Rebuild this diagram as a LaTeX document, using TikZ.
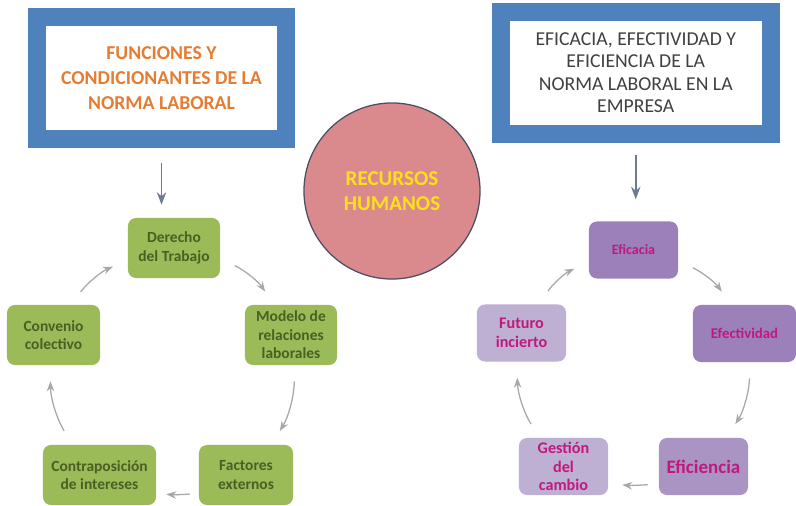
\documentclass[tikz,border=0pt]{standalone}
\usepackage{fontspec}
\setmainfont{Carlito}
\usetikzlibrary{arrows.meta, positioning}

\definecolor{frameblue}{HTML}{4F81BD}
\definecolor{titleorange}{HTML}{E67C32}
\definecolor{titlegray}{HTML}{404040}
\definecolor{arrowblue}{HTML}{6C7A96}
\definecolor{arrowgray}{HTML}{A8A8A8}
\definecolor{circlepink}{HTML}{DA8A8D}
\definecolor{circleline}{HTML}{4A4E66}
\definecolor{circletext}{HTML}{FFE01A}
\definecolor{boxgreen}{HTML}{9BBB59}
\definecolor{textgreen}{HTML}{4A5F22}
\definecolor{purpledark}{HTML}{9C80BA}
\definecolor{purplemid}{HTML}{A994C4}
\definecolor{purplelight}{HTML}{BEB0D3}
\definecolor{textpink}{HTML}{C2187D}

\begin{document}
\begin{tikzpicture}[
    x=0.025cm, y=-0.025cm,
    >=Stealth,
    % Define styles for the different node types
    framebox/.style={rectangle, draw=frameblue, line width=0.45cm, fill=white, align=center, minimum height=3.04cm},
    greenbox/.style={rectangle, rounded corners=0.2cm, fill=boxgreen, text=textgreen, align=center, minimum height=1.5cm, inner sep=2pt, font=\fontsize{11}{13.2}\selectfont\bfseries},
    purplebox/.style={rectangle, rounded corners=0.2cm, text=textpink, align=center, minimum width=2.225cm, minimum height=1.425cm, inner sep=2pt, font=\fontsize{11.5}{13.4}\selectfont\bfseries},
    downarrow/.style={->, line width=1.3pt, draw=arrowblue},
    cyclearrow/.style={->, line width=0.9pt, draw=arrowgray, shorten <=0.4cm, shorten >=0.4cm, bend left=15},
]

% background and page size
\fill[white] (0,0) rectangle (796,506);
\useasboundingbox (0,0) rectangle (796,506);

% -------------------------
% Title Frames and Centre
% -------------------------
\node (leftframe) [framebox, minimum width=6.24cm, text=titleorange, font=\fontsize{14}{17.8}\selectfont\bfseries] at (161.5,78) {FUNCIONES Y\\CONDICIONANTES DE LA\\NORMA LABORAL};
\node (rightframe) [framebox, minimum width=6.74cm, text=titlegray, font=\fontsize{14}{15.8}\selectfont] at (635.75,72.75) {EFICACIA, EFECTIVIDAD Y\\EFICIENCIA DE LA\\NORMA LABORAL EN LA\\EMPRESA};

\node (rrhh) [circle, fill=circlepink, draw=circleline, line width=0.9pt, minimum size=4.4cm, align=center, text=circletext, font=\fontsize{15}{17.8}\selectfont\bfseries] at (392,191) {RECURSOS\\HUMANOS};

% -------------------------
% Left Cycle Nodes
% -------------------------
\node (derecho) [greenbox, minimum width=2.3cm] at (174,248) {Derecho\\del Trabajo};
\node (modelo) [greenbox, minimum width=2.3cm] at (291,335) {Modelo de\\relaciones\\laborales};
\node (factores) [greenbox, minimum width=2.35cm] at (246,475) {Factores\\externos};
\node (contra) [greenbox, minimum width=2.825cm] at (99.5,475) {Contraposición\\de intereses};
\node (convenio) [greenbox, minimum width=2.325cm] at (53.5,335) {Convenio\\colectivo};

% -------------------------
% Right Cycle Nodes
% -------------------------
\node (eficacia) [purplebox, fill=purpledark, font=\fontsize{10}{12}\selectfont\bfseries] at (633.5,250) {Eficacia};
\node (efectividad) [purplebox, fill=purpledark, minimum width=2.575cm, font=\fontsize{10.5}{12}\selectfont\bfseries] at (744.5,333.5) {Efectividad};
\node (eficiencia) [purplebox, fill=purplemid, font=\fontsize{13.5}{15}\selectfont\bfseries] at (703.5,466.5) {Eficiencia};
\node (gestion) [purplebox, fill=purplelight] at (563.5,466.5) {Gestión\\del\\cambio};
\node (futuro) [purplebox, fill=purplelight] at (521.5,333) {Futuro\\incierto};

% -------------------------
% Arrow Connections
% -------------------------

% Frames to first step
\draw[downarrow, shorten <=0.375cm, shorten >=0.325cm] (leftframe.south) -- (leftframe.south |- derecho.north);
\draw[downarrow, shorten <=0.3cm, shorten >=0.55cm] (rightframe.south) -- (rightframe.south |- eficacia.north);

% Left cycle
\draw[cyclearrow] (derecho.-13) to (modelo.119);
\draw[cyclearrow] (modelo.-83) to (factores.50);
\draw[cyclearrow, shorten <=0.225cm, shorten >=0.25cm, bend left=5] (factores.201) to (contra.-18);
\draw[cyclearrow] (contra.132) to (convenio.-96);
\draw[cyclearrow] (convenio.60) to (derecho.195);

% Right cycle
\draw[cyclearrow] (eficacia.-14) to (efectividad.115);
\draw[cyclearrow] (efectividad.-79) to (eficiencia.51);
\draw[cyclearrow, shorten <=0.275cm, shorten >=0.35cm, bend left=5] (eficiencia.201) to (gestion.-21);
\draw[cyclearrow] (gestion.130) to (futuro.-99);
\draw[cyclearrow] (futuro.59) to (eficacia.195);

\end{tikzpicture}
\end{document}
